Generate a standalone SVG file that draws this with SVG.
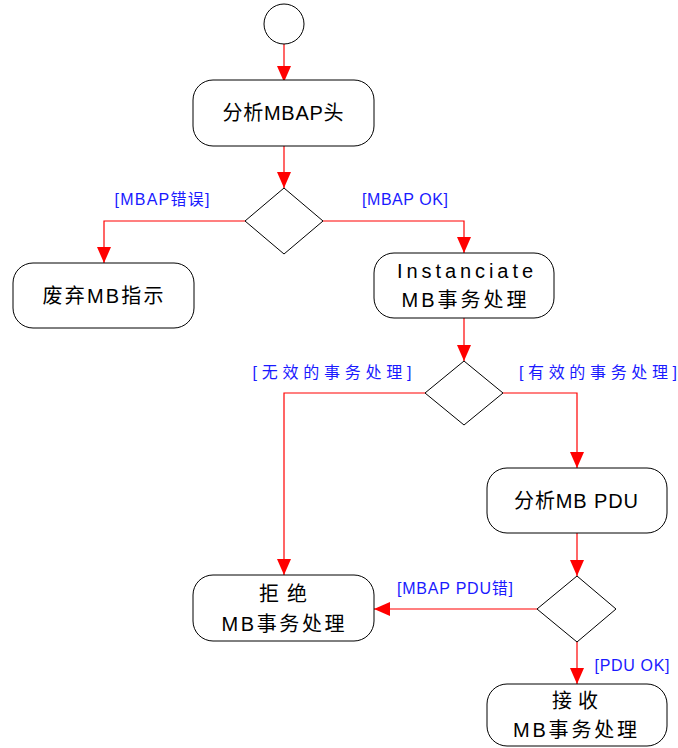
<svg xmlns="http://www.w3.org/2000/svg" width="678" height="748" viewBox="0 0 678 748">
<style>
.node{fill:#fff;stroke:#000;stroke-width:1}
.t{font-family:"Liberation Sans","Noto Sans CJK SC",sans-serif;font-size:20px;fill:#000;text-anchor:middle}
.lbl{font-family:"Liberation Sans","Noto Sans CJK SC",sans-serif;font-size:16px;fill:#1a1aff;text-anchor:middle}
.c{fill:none;stroke:#ff0000;stroke-width:1.2}
</style>
<defs>
<marker id="ah" markerUnits="userSpaceOnUse" markerWidth="16" markerHeight="14" viewBox="0 0 16 14" refX="16" refY="7" orient="auto">
<path d="M0,0 L16,7 L0,14 z" fill="#ff0000"/>
</marker>
</defs>
<g id="connectors">
<path class="c" d="M284,44 V82" marker-end="url(#ah)"/>
<path class="c" d="M284,146 V188" marker-end="url(#ah)"/>
<path class="c" d="M245,221 H104 V263" marker-end="url(#ah)"/>
<path class="c" d="M323,221 H464 V253" marker-end="url(#ah)"/>
<path class="c" d="M464,318 V361" marker-end="url(#ah)"/>
<path class="c" d="M425,393 H284 V575" marker-end="url(#ah)"/>
<path class="c" d="M503,393 H577 V468" marker-end="url(#ah)"/>
<path class="c" d="M577,533 V576" marker-end="url(#ah)"/>
<path class="c" d="M537,609 H374" marker-end="url(#ah)"/>
<path class="c" d="M577,641 V684" marker-end="url(#ah)"/>
<text class="lbl" x="162" y="205" textLength="95">[MBAP错误]</text>
<text class="lbl" x="405" y="205" textLength="86">[MBAP OK]</text>
<text class="lbl" x="332" y="378" textLength="159">[无效的事务处理]</text>
<text class="lbl" x="598" y="378" textLength="158">[有效的事务处理]</text>
<text class="lbl" x="455" y="594" textLength="116">[MBAP PDU错]</text>
<text class="lbl" x="632" y="671" textLength="75">[PDU OK]</text>
</g>
<g id="start"><circle class="node" cx="284" cy="24" r="20"/></g>
<g id="parse-mbap">
<rect class="node" x="193" y="80" width="181" height="66" rx="20"/>
<text class="t" x="283" y="120" textLength="121">分析MBAP头</text>
</g>
<g id="decision1"><polygon class="node" points="284,188 323,221 284,254 245,221"/></g>
<g id="discard">
<rect class="node" x="13" y="263" width="181" height="65" rx="20"/>
<text class="t" x="103" y="303" textLength="121">废弃MB指示</text>
</g>
<g id="instanciate">
<rect class="node" x="374" y="253" width="180" height="65" rx="20"/>
<text class="t" x="465" y="278" textLength="136">Instanciate</text>
<text class="t" x="464" y="307" textLength="125">MB事务处理</text>
</g>
<g id="decision2"><polygon class="node" points="464,361 503,393 464,425 425,393"/></g>
<g id="parse-pdu">
<rect class="node" x="487" y="468" width="180" height="65" rx="20"/>
<text class="t" x="576" y="508" textLength="124">分析MB PDU</text>
</g>
<g id="reject">
<rect class="node" x="193" y="575" width="181" height="66" rx="20"/>
<text class="t" x="283" y="601" textLength="48">拒绝</text>
<text class="t" x="283" y="631" textLength="123">MB事务处理</text>
</g>
<g id="decision3"><polygon class="node" points="577,576 616,609 577,642 537,609"/></g>
<g id="accept">
<rect class="node" x="487" y="684" width="180" height="62" rx="20"/>
<text class="t" x="575" y="708" textLength="46">接收</text>
<text class="t" x="575" y="737" textLength="124">MB事务处理</text>
</g>
</svg>
